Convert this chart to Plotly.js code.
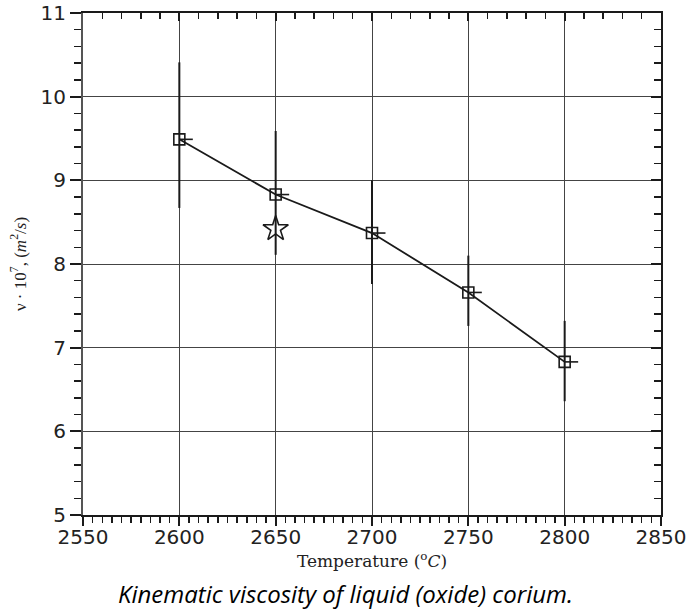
<!DOCTYPE html>
<html>
<head>
<meta charset="utf-8">
<script src="https://cdn.plot.ly/plotly-3.0.1.min.js"></script>
<style>html,body{margin:0;padding:0;background:#fff;}#chart{width:690px;height:614px;}</style>
</head>
<body>
<div id="chart"></div>
<script>
const temperature = [2600, 2650, 2700, 2750, 2800];
const viscosity = [9.49, 8.83, 8.37, 7.66, 6.83];
const errUp = [0.92, 0.76, 0.63, 0.44, 0.49];
const errDown = [0.82, 0.72, 0.61, 0.40, 0.47];
const errRight = [7, 7, 7, 7, 7];
const starTemperature = [2650];
const starViscosity = [8.42];
const xTickLabels = ['2550', '2600', '2650', '2700', '2750', '2800', '2850'];
const xTickVals = [2550, 2600, 2650, 2700, 2750, 2800, 2850];
const yTickVals = [5, 6, 7, 8, 9, 10, 11];

const ink = '#1a1a1a';
const traces = [
  {
    x: temperature, y: viscosity, type: 'scatter', mode: 'lines+markers',
    line: {color: ink, width: 1.8},
    marker: {symbol: 'square-open', size: 11, color: ink, line: {color: ink, width: 1.6}},
    error_y: {type: 'data', symmetric: false, array: errUp, arrayminus: errDown, color: ink, thickness: 2, width: 0},
    error_x: {type: 'data', symmetric: false, array: errRight, arrayminus: [0,0,0,0,0], color: ink, thickness: 1.6, width: 0},
    showlegend: false, hoverinfo: 'x+y'
  },
  {
    x: starTemperature, y: starViscosity, type: 'scatter', mode: 'markers',
    marker: {symbol: 'star-open', size: 19, color: ink, line: {color: ink, width: 1.6}},
    showlegend: false
  },
  {
    x: [], y: [], xaxis: 'x2', yaxis: 'y2', type: 'scatter', mode: 'markers',
    showlegend: false, hoverinfo: 'skip'
  }
];

const tickFont = {family: 'DejaVu Sans', size: 20, color: '#222'};
const layout = {
  width: 690, height: 614,
  margin: {l: 83, r: 29, t: 13, b: 99},
  paper_bgcolor: '#fff', plot_bgcolor: '#fff',
  xaxis: {
    range: [2550, 2850], tickmode: 'array', tickvals: xTickVals, ticktext: xTickLabels,
    ticks: 'outside', ticklen: 9, tickwidth: 2, tickcolor: ink, ticklabelstandoff: -6,
    minor: {dtick: 5, tick0: 2550, ticks: 'outside', ticklen: 6, tickwidth: 1.5, tickcolor: ink, showgrid: false},
    showgrid: true, gridcolor: '#444', gridwidth: 1,
    showline: true, linecolor: ink, linewidth: 2, zeroline: false,
    tickfont: tickFont,
    title: {text: 'Temperature (<sup>o</sup><i>C</i>)', font: {family: 'DejaVu Serif', size: 17, color: '#222'}, standoff: 7}
  },
  yaxis: {
    range: [5, 11], tickmode: 'array', tickvals: yTickVals,
    ticks: 'outside', ticklen: 11, tickwidth: 2, tickcolor: ink,
    minor: {dtick: 0.2, tick0: 5, ticks: 'outside', ticklen: 7, tickwidth: 1.5, tickcolor: ink, showgrid: false},
    showgrid: true, gridcolor: '#444', gridwidth: 1,
    showline: true, linecolor: '#555', linewidth: 2, zeroline: false,
    tickfont: tickFont,
    title: {text: 'ν · 10<sup>7</sup>, (<i>m</i><sup>2</sup>/<i>s</i>)', font: {family: 'Liberation Serif', size: 17, color: '#222'}, standoff: 10}
  },
  xaxis2: {
    overlaying: 'x', side: 'top', anchor: 'y2', range: [2550, 2850],
    tickmode: 'array', tickvals: xTickVals, showticklabels: false,
    ticks: 'inside', ticklen: 8, tickwidth: 2, tickcolor: ink,
    minor: {dtick: 10, tick0: 2550, ticks: 'inside', ticklen: 6, tickwidth: 1.5, tickcolor: ink, showgrid: false},
    showgrid: false, showline: true, linecolor: ink, linewidth: 2, zeroline: false
  },
  yaxis2: {
    overlaying: 'y', side: 'right', anchor: 'x2', range: [5, 11],
    tickmode: 'array', tickvals: yTickVals, showticklabels: false,
    ticks: 'inside', ticklen: 10, tickwidth: 2, tickcolor: ink,
    minor: {dtick: 0.2, tick0: 5, ticks: 'inside', ticklen: 7, tickwidth: 1.5, tickcolor: ink, showgrid: false},
    showgrid: false, showline: true, linecolor: ink, linewidth: 2, zeroline: false
  },
  annotations: [{
    text: '<i>Kinematic viscosity of liquid (oxide) corium.</i>',
    xref: 'paper', yref: 'paper', x: 0.455, y: -0.157, xanchor: 'center', yanchor: 'middle',
    showarrow: false, font: {family: 'Open Sans', size: 24, color: '#000'}
  }]
};

Plotly.newPlot('chart', traces, layout, {displayModeBar: false, staticPlot: true});
</script>
</body>
</html>
